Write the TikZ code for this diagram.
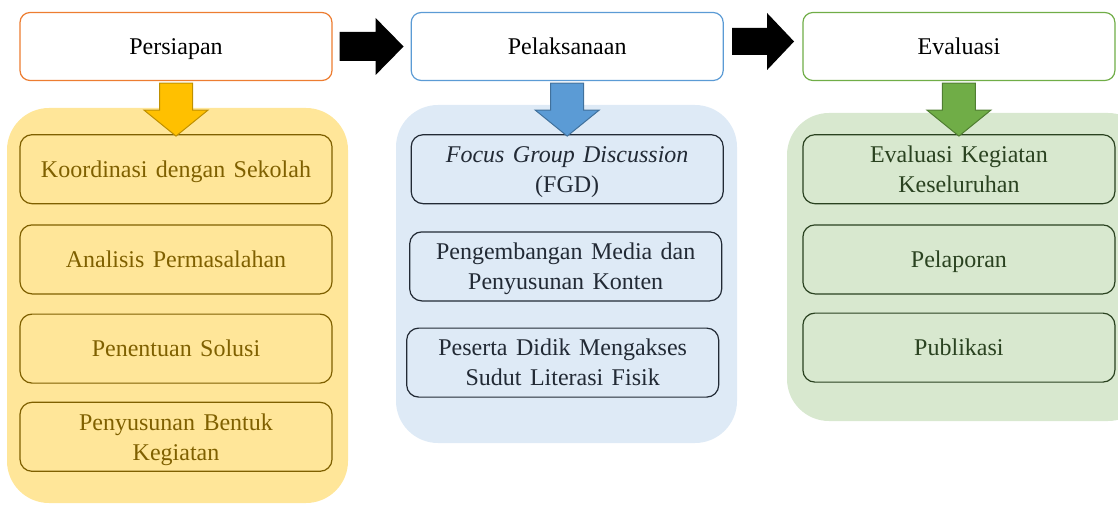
\documentclass[tikz,border=0pt]{standalone}
\usepackage{fontspec}
\setmainfont{Liberation Serif}[WordSpace=1.4]
\usetikzlibrary{positioning,calc}

\definecolor{persiapanline}{HTML}{ED7D31}
\definecolor{pelaksanaanline}{HTML}{5B9BD5}
\definecolor{evaluasiline}{HTML}{70AD47}
\definecolor{persiapanbg}{HTML}{FFE699}
\definecolor{pelaksanaanbg}{HTML}{DEEAF6}
\definecolor{evaluasibg}{HTML}{D8E8CF}
\definecolor{persiapantext}{HTML}{7F6000}
\definecolor{pelaksanaantext}{HTML}{222A35}
\definecolor{evaluasitext}{HTML}{2A4220}
\definecolor{persiapanarrow}{HTML}{FFC000}
\definecolor{persiapanarrowline}{HTML}{BF9000}
\definecolor{pelaksanaanarrow}{HTML}{5B9BD5}
\definecolor{pelaksanaanarrowline}{HTML}{41719C}
\definecolor{evaluasiarrow}{HTML}{70AD47}
\definecolor{evaluasiarrowline}{HTML}{507E32}

\tikzset{
	header/.style={draw, line width=1.2pt, fill=white, rounded corners=10pt, text depth=0pt,
		minimum width=312pt, minimum height=68pt, font=\fontsize{24}{30}\selectfont},
	kegiatan/.style={draw, line width=1.2pt, rounded corners=12pt, align=center, text depth=0pt,
		minimum width=312pt, minimum height=69pt, inner sep=2pt, font=\fontsize{24}{30}\selectfont},
	persiapanbox/.style={kegiatan, draw=persiapantext, fill=persiapanbg, text=persiapantext},
	pelaksanaanbox/.style={kegiatan, draw=pelaksanaantext, fill=pelaksanaanbg, text=pelaksanaantext},
	evaluasibox/.style={kegiatan, draw=evaluasitext, fill=evaluasibg, text=evaluasitext}
}

\begin{document}
\begin{tikzpicture}[x=1pt, y=-1pt]
	\clip (0,0) rectangle (1118,505);
	% latar tiap tahap
	\fill[persiapanbg, rounded corners=42pt] (7,108) rectangle (348,503);
	\fill[pelaksanaanbg, rounded corners=42pt] (396,105) rectangle (737,443);
	\fill[evaluasibg, rounded corners=42pt] (787,113) rectangle (1150,421);

	% judul tahap
	\node[header, draw=persiapanline] (persiapan) at (176,46.5) {Persiapan};
	\node[header, draw=pelaksanaanline, right=78pt of persiapan] (pelaksanaan) {Pelaksanaan};
	\node[header, draw=evaluasiline, right=78.5pt of pelaksanaan] (evaluasi) {Evaluasi};

	% kegiatan persiapan
	\node[persiapanbox, below=53pt of persiapan] (koordinasi) {Koordinasi dengan Sekolah};
	\node[persiapanbox, below=20pt of koordinasi] (analisis) {Analisis Permasalahan};
	\node[persiapanbox, below=19pt of analisis] (solusi) {Penentuan Solusi};
	\node[persiapanbox, below=18pt of solusi] (bentuk) {Penyusunan Bentuk\\Kegiatan};

	% kegiatan pelaksanaan
	\node[pelaksanaanbox, below=53pt of pelaksanaan] (fgd) {\textit{Focus Group Discussion}\\(FGD)};
	\node[pelaksanaanbox, below=27pt of fgd, xshift=-1.5pt] (media) {Pengembangan Media dan\\Penyusunan Konten};
	\node[pelaksanaanbox, below=26pt of media, xshift=-3pt] (akses) {Peserta Didik Mengakses\\Sudut Literasi Fisik};

	% kegiatan evaluasi
	\node[evaluasibox, below=53pt of evaluasi] (keseluruhan) {Evaluasi Kegiatan\\Keseluruhan};
	\node[evaluasibox, below=20pt of keseluruhan] (pelaporan) {Pelaporan};
	\node[evaluasibox, below=18pt of pelaporan] (publikasi) {Publikasi};

	% panah antar tahap
	\coordinate (panah1) at ($(persiapan.east)!.5!(pelaksanaan.west)$);
	\coordinate (panah2) at ($(pelaksanaan.east)!.5!(evaluasi.west)+(0,-5)$);
	\fill[black, shift={(panah1)}] (-32,-14.5) -- (4,-14.5) -- (4,-28.5) -- (32,0) -- (4,28.5) -- (4,14.5) -- (-32,14.5) -- cycle;
	\fill[black, shift={(panah2)}] (-31,-13.5) -- (4,-13.5) -- (4,-28.5) -- (31,0) -- (4,28.5) -- (4,13.5) -- (-31,13.5) -- cycle;

	% panah ke kegiatan
	\foreach \tahap/\isi/\garis in {persiapan/persiapanarrow/persiapanarrowline,
		pelaksanaan/pelaksanaanarrow/pelaksanaanarrowline, evaluasi/evaluasiarrow/evaluasiarrowline}
		\filldraw[fill=\isi, draw=\garis, line width=1pt, shift={(\tahap.south)}]
			(-16.5,2) -- (16.5,2) -- (16.5,29) -- (32,29) -- (0,55) -- (-32,29) -- (-16.5,29) -- cycle;
\end{tikzpicture}
\end{document}
